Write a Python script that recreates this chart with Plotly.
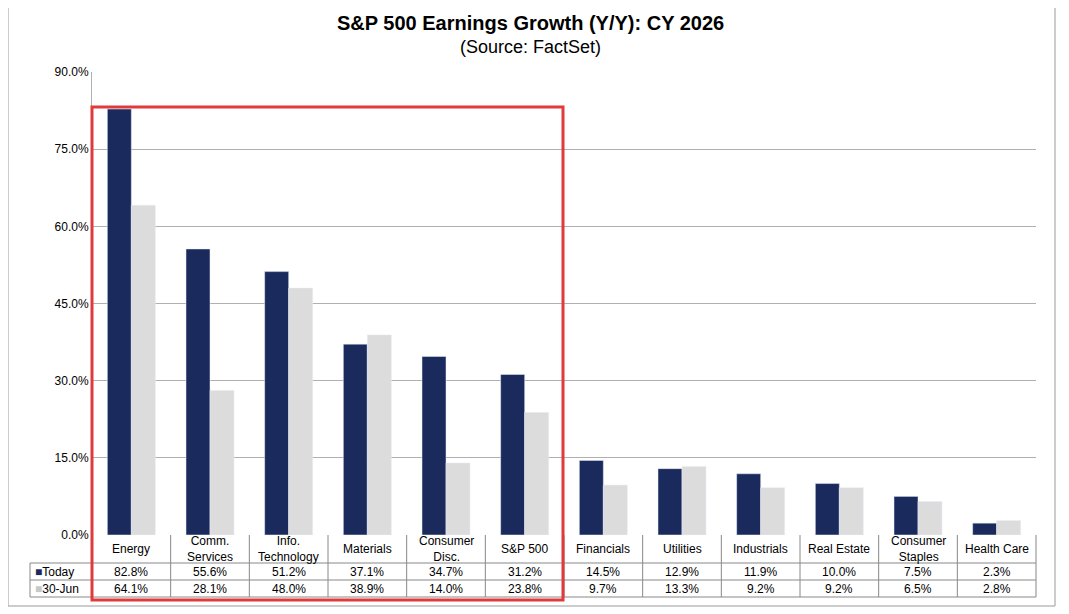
import plotly.graph_objects as go

categories = ["Energy", "Comm.<br>Services", "Info.<br>Technology", "Materials", "Consumer<br>Disc.", "S&P 500",
              "Financials", "Utilities", "Industrials", "Real Estate", "Consumer<br>Staples", "Health Care"]
today = [82.8, 55.6, 51.2, 37.1, 34.7, 31.2, 14.5, 12.9, 11.9, 10.0, 7.5, 2.3]
jun30 = [64.1, 28.1, 48.0, 38.9, 14.0, 23.8, 9.7, 13.3, 9.2, 9.2, 6.5, 2.8]
yticks = [0, 15, 30, 45, 60, 75, 90]

O = 8  # page body margin offset
W, H = 1069 - O, 614 - O
L, R, T, B = 92, 1036, 72, 535
pw, ph = R - L, B - T
def px(x): return (x - L) / pw
def py(y): return (B - y) / ph

navy = "#1b2a5c"
gray = "#dcdcdc"
xs = list(range(len(categories)))

fig = go.Figure()
fig.add_bar(x=xs, y=today, marker_color=navy, name="Today")
fig.add_bar(x=xs, y=jun30, marker_color=gray, name="30-Jun")

shapes, ann = [], []
font = dict(family="Arial", size=12, color="#000")
def A(x, y, text, f=font, xa="center"):
    ann.append(dict(x=x, y=y, xref="paper", yref="paper", text=text, showarrow=False,
                    xanchor=xa, yanchor="middle", font=f))

for yy in [563, 580, 597]:
    shapes.append(dict(type="line", xref="paper", yref="paper", x0=px(30), x1=1, y0=py(yy), y1=py(yy),
                       line=dict(color="#888", width=1)))
shapes.append(dict(type="line", xref="paper", yref="paper", x0=px(30), x1=px(30), y0=py(563), y1=py(597),
                   line=dict(color="#888", width=1)))
for i in range(len(categories) + 1):
    xp = i / len(categories)
    shapes.append(dict(type="line", xref="paper", yref="paper", x0=xp, x1=xp, y0=0, y1=py(597),
                       line=dict(color="#888", width=1)))
for i, c in enumerate(categories):
    xc = (i + 0.5) / len(categories)
    A(xc, py(549), c, dict(family="Arial", size=12, color="#000"))
    A(xc, py(571.5), f"{today[i]:.1f}%")
    A(xc, py(588.5), f"{jun30[i]:.1f}%")
A(px(33), py(571.5), f"<span style='color:{navy}'>■</span>Today", xa="left")
A(px(33), py(588.5), f"<span style='color:#c8c8c8'>■</span>30-Jun", xa="left")
shapes.append(dict(type="rect", xref="paper", yref="paper", x0=px(92), x1=px(563), y0=py(600), y1=py(107),
                   line=dict(color="#e03a3a", width=3)))
shapes.append(dict(type="rect", xref="paper", yref="paper", x0=px(8), x1=px(1055), y0=py(606), y1=py(4),
                   line=dict(color="#999", width=1)))
A(px(530), py(23), "<b>S&P 500 Earnings Growth (Y/Y): CY 2026</b>", dict(family="Arial", size=20, color="#000"))
A(px(530), py(47), "(Source: FactSet)", dict(family="Arial", size=18, color="#000"))

fig.update_layout(
    width=W, height=H, margin=dict(l=L - O, r=1069 - R, t=T - O, b=614 - B),
    plot_bgcolor="white", paper_bgcolor="white", showlegend=False,
    barmode="group", bargap=0.39, bargroupgap=0,
    xaxis=dict(range=[-0.5, len(categories) - 0.5], showticklabels=False, showgrid=False, zeroline=False),
    yaxis=dict(range=[0, 90], tickvals=yticks, ticktext=[f"{v:.1f}%" for v in yticks],
               showgrid=True, gridcolor="#b0b0b0", zeroline=False, showline=True, linecolor="#b0b0b0",
               tickfont=dict(family="Arial", size=12, color="#000"), ticklen=0, ticks=""),
    shapes=shapes, annotations=ann,
)
fig.write_html("out.html")
